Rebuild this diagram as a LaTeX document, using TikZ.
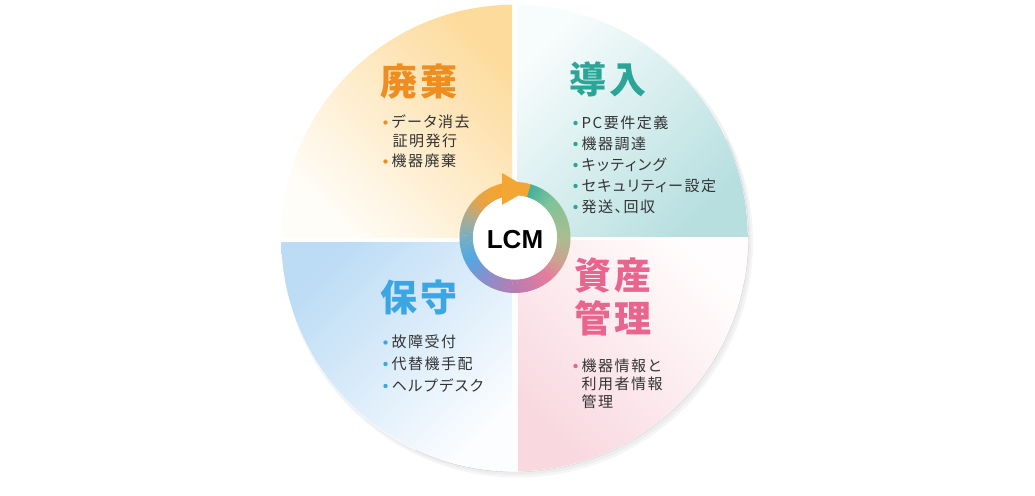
\documentclass[tikz,border=0pt]{standalone}
\usepackage{fontspec}
\newfontfamily\cjkbody[RawFeature=+palt,LetterSpace=10]{Noto Sans CJK JP}
\newfontfamily\cjktitle[LetterSpace=9]{Noto Sans CJK JP}
\newfontfamily\lcmfont{Liberation Sans}
\usetikzlibrary{calc}
\definecolor{textgray}{HTML}{333333}
\definecolor{orgT}{HTML}{EE8D20}
\definecolor{tealT}{HTML}{2AA597}
\definecolor{blueT}{HTML}{3CA6E2}
\definecolor{pinkT}{HTML}{E9658F}
\definecolor{tlA}{HTML}{FDDB9D}
\definecolor{tlB}{HTML}{FFFDF8}
\definecolor{trA}{HTML}{F7FCFC}
\definecolor{trB}{HTML}{B7DFE0}
\definecolor{blA}{HTML}{BCDCF5}
\definecolor{blB}{HTML}{FBFDFF}
\definecolor{brA}{HTML}{FFFDFD}
\definecolor{brB}{HTML}{F9D8E0}
\definecolor{rc0}{HTML}{3FAF9C}
\definecolor{rc1}{HTML}{80C39A}
\definecolor{rc2}{HTML}{A9BD8E}
\definecolor{rc3}{HTML}{CFA08F}
\definecolor{rc4}{HTML}{E57C9C}
\definecolor{rc5}{HTML}{B97BB2}
\definecolor{rc6}{HTML}{8A8ECB}
\definecolor{rc7}{HTML}{52A8E3}
\definecolor{rc8}{HTML}{78AEC2}
\definecolor{rc9}{HTML}{B0AB8C}
\definecolor{rc10}{HTML}{E6A346}
\definecolor{rc11}{HTML}{F1A432}
\definecolor{rc12}{HTML}{F3A633}
\definecolor{arrowc}{HTML}{F3A633}
\begin{document}
\begin{tikzpicture}[x=1pt,y=-1pt,
  bodytext/.style={anchor=west, inner sep=0pt, text=textgray,
    font=\cjkbody\fontsize{15}{18}\selectfont, text height=13.2pt, text depth=1.8pt},
  titletext/.style={anchor=west, inner sep=0pt,
    font=\cjktitle\bfseries\fontsize{37}{40}\selectfont, text height=32.6pt, text depth=4.4pt},
  bulletdot/.style={circle, inner sep=0pt, minimum size=4.4pt}]
\useasboundingbox (0,0) rectangle (1035,495);
\fill[white] (0,0) rectangle (1035,495);
\coordinate (cc) at (514.5,238);
\coordinate (rc) at (515,237.5);
% shadow and base disk
\fill[black!4] (517.5,242) circle (235.5);
\fill[black!7] (516.5,240.5) circle (234.5);
\fill[white] (cc) circle (233.9);
\draw[black!18, line width=0.4pt] ($(cc)+(-25:234)$) arc[start angle=-25, end angle=115, radius=234];
% quadrants
\begin{scope}
  \clip (cc) circle (233.3);
  \shade[top color=tlA, bottom color=tlB, shading angle=-45] (281,4) rectangle (512,237);
\end{scope}
\begin{scope}
  \clip (cc) circle (233.3);
  \shade[top color=trA, bottom color=trB, shading angle=45] (517,4) rectangle (748,236);
\end{scope}
\begin{scope}
  \clip (cc) circle (233.3);
  \shade[top color=blA, bottom color=blB, shading angle=45] (281,242) rectangle (512,472);
\end{scope}
\begin{scope}
  \clip (cc) circle (233.3);
  \shade[top color=brA, bottom color=brB, shading angle=-45] (518,240) rectangle (748,472);
\end{scope}
% ring with angular colour run
\foreach \ta/\tb/\ca/\cb in {-74/-45/rc0/rc1, -45/0/rc1/rc2, 0/30/rc2/rc3, 30/50/rc3/rc4, 50/90/rc4/rc5, 90/125/rc5/rc6, 125/155/rc6/rc7, 155/180/rc7/rc8, 180/205/rc8/rc9, 205/225/rc9/rc10, 225/245/rc10/rc11, 245/286/rc11/rc12}{
  \foreach \k in {0,...,11}{
    \pgfmathsetmacro\angA{\ta+(\tb-\ta)*\k/12}
    \pgfmathsetmacro\angB{\ta+(\tb-\ta)*(\k+1)/12+0.4}
    \pgfmathsetmacro\mixp{100*(\k+0.5)/12}
    \fill[\cb!\mixp!\ca] ($(rc)+(\angA:55.5)$) arc[start angle=\angA, end angle=\angB, radius=55.5]
      -- ($(rc)+(\angB:42)$) arc[start angle=\angB, end angle=\angA, radius=42] -- cycle;
  }
}
\fill[white] (rc) circle (42);
\fill[arrowc] (502,173) -- (529.5,189) -- (502,205) -- cycle;
\node[font=\lcmfont\bfseries\fontsize{26}{30}\selectfont, text=black, inner sep=0pt] (lcm) at (515,240) {LCM};
% titles
\node[titletext, text=orgT] (t1) at (380.5,81) {廃棄};
\node[titletext, text=tealT] (t2) at (569,79.5) {導入};
\node[titletext, text=blueT] (t3) at (380.5,297.5) {保守};
\node[titletext, text=pinkT] (t4a) at (574,275.5) {資産};
\node[titletext, text=pinkT] (t4b) at (574,318.5) {管理};
% haiki
\node[bulletdot, fill=orgT] (b11) at (385.5,122.5) {};
\node[bodytext] (l11) at (391.5,122) {データ消去};
\node[bodytext] (l12) at (392.5,140.5) {証明発行};
\node[bulletdot, fill=orgT] (b12) at (385.5,161.5) {};
\node[bodytext] (l13) at (391.5,161) {機器廃棄};
% dounyuu
\node[bulletdot, fill=tealT] (b21) at (575.5,123) {};
\node[bodytext] (l21) at (581.5,122.5) {PC要件定義};
\node[bulletdot, fill=tealT] (b22) at (575.5,144) {};
\node[bodytext] (l22) at (581.5,143.5) {機器調達};
\node[bulletdot, fill=tealT] (b23) at (575.5,165) {};
\node[bodytext] (l23) at (581.5,164.5) {キッティング};
\node[bulletdot, fill=tealT] (b24) at (575.5,186) {};
\node[bodytext] (l24) at (581.5,185.5) {セキュリティー設定};
\node[bulletdot, fill=tealT] (b25) at (575.5,207) {};
\node[bodytext] (l25) at (581.5,206.5) {発送、回収};
% hoshu
\node[bulletdot, fill=blueT] (b31) at (385.5,342.5) {};
\node[bodytext] (l31) at (391.5,342) {故障受付};
\node[bulletdot, fill=blueT] (b32) at (385.5,364) {};
\node[bodytext] (l32) at (391.5,363.5) {代替機手配};
\node[bulletdot, fill=blueT] (b33) at (385.5,386) {};
\node[bodytext] (l33) at (391.5,385.5) {ヘルプデスク};
% shisan kanri
\node[bulletdot, fill=pinkT] (b41) at (575.5,366) {};
\node[bodytext] (l41) at (581.5,365.5) {機器情報と};
\node[bodytext] (l42) at (581.5,383.5) {利用者情報};
\node[bodytext] (l43) at (581.5,401.5) {管理};
\end{tikzpicture}
\end{document}
